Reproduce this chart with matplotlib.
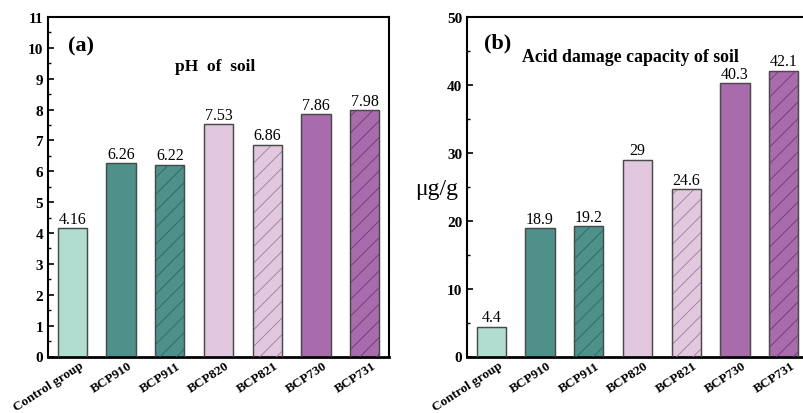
import matplotlib
matplotlib.use("Agg")
import matplotlib.pyplot as plt
from matplotlib.ticker import MultipleLocator

categories = ["Control group", "BCP910", "BCP911", "BCP820", "BCP821", "BCP730", "BCP731"]
ph_values = [4.16, 6.26, 6.22, 7.53, 6.86, 7.86, 7.98]
ph_labels = ["4.16", "6.26", "6.22", "7.53", "6.86", "7.86", "7.98"]
acid_values = [4.4, 18.9, 19.2, 29, 24.6, 40.3, 42.1]
acid_labels = ["4.4", "18.9", "19.2", "29", "24.6", "40.3", "42.1"]
colors = ["#b0ddd0", "#4e918a", "#4e918a", "#e2c8df", "#e2c8df", "#a86bab", "#a86bab"]
hatch_colors = ["#b0ddd0", "#4e918a", "#2c6660", "#e2c8df", "#9c7b98", "#a86bab", "#6e3a73"]
hatches = ["", "", "//", "", "//", "", "//"]

plt.rcParams['font.family'] = ['Liberation Serif', 'DejaVu Serif']
plt.rcParams['hatch.linewidth'] = 0.6

fig = plt.figure(figsize=(8.04, 4.14), dpi=100)
W, H = 804, 414

def make_ax(x0, x1, ytop, ybot):
    return fig.add_axes([x0 / W, 1 - ybot / H, (x1 - x0) / W, (ybot - ytop) / H])

axa = make_ax(48, 389, 18, 357.5)
axb = make_ax(467, 808, 18, 357.5)

def draw(ax, vals, labels, ymax, major, minor):
    x = list(range(len(categories)))
    ax.bar(x, vals, width=0.6, color=colors, edgecolor="#4a4a4a", linewidth=0.9, zorder=2)
    for xi, v, h, hc in zip(x, vals, hatches, hatch_colors):
        if h:
            ax.bar(xi, v, width=0.6, fill=False, hatch=h, edgecolor=hc, linewidth=0, zorder=3)
    ax.bar(x, vals, width=0.6, fill=False, edgecolor="#4a4a4a", linewidth=0.9, zorder=4)
    for xi, v, lab in zip(x, vals, labels):
        ax.text(xi, v + ymax * 0.004, lab, ha="center", va="bottom", fontsize=11.5)
    ax.set_xlim(-0.5, len(categories) - 0.5)
    ax.set_ylim(0, ymax)
    ax.yaxis.set_major_locator(MultipleLocator(major))
    ax.yaxis.set_minor_locator(MultipleLocator(minor))
    ax.set_xticks([xi + 0.14 for xi in x])
    ax.set_xticklabels(categories, rotation=33, ha="right", rotation_mode="anchor",
                       fontweight="bold", fontsize=9.5)
    ax.tick_params(axis="x", length=0, pad=2)
    ax.tick_params(axis="y", which="major", direction="in", length=4, width=1.2,
                   labelsize=11)
    ax.tick_params(axis="y", which="minor", direction="in", length=2.5, width=1)
    for t in ax.get_yticklabels():
        t.set_fontweight("bold")
    for s in ax.spines.values():
        s.set_linewidth(1.5)
    ax.spines["bottom"].set_linewidth(2)

draw(axa, ph_values, ph_labels, 11, 1, 0.5)
draw(axb, acid_values, acid_labels, 50, 10, 5)

axa.text(0.06, 0.915, "(a)", transform=axa.transAxes, fontsize=16, fontweight="bold",
         ha="left", va="center")
axa.text(0.49, 0.855, "pH  of  soil", transform=axa.transAxes, fontsize=12.5, fontweight="bold",
         ha="center", va="center")
axb.text(0.05, 0.925, "(b)", transform=axb.transAxes, fontsize=16, fontweight="bold",
         ha="left", va="center")
axb.text(0.48, 0.885, "Acid damage capacity of soil", transform=axb.transAxes, fontsize=12.8,
         fontweight="bold", ha="center", va="center")
fig.text(437 / W, 1 - 189 / H, "\u03bcg/g", fontsize=17, ha="center", va="center")

fig.savefig("out.png", dpi=100)
